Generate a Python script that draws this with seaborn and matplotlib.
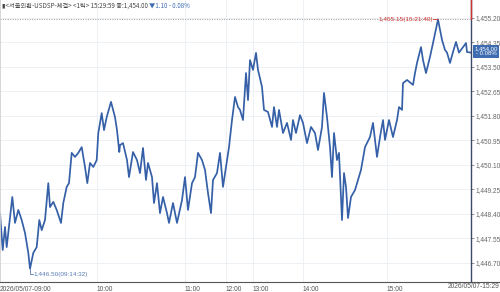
import numpy as np
import pandas as pd
import matplotlib
matplotlib.use("Agg")
import matplotlib.pyplot as plt
from matplotlib.lines import Line2D
import seaborn as sns

# ---- data (position along trade-count axis, price) ----
tick_pos = [0, 2.7, 5, 6.7, 10, 12.3, 15, 18.3, 21.7, 25, 28.3, 30, 33.3, 36.7, 39.3, 41.7,
            45, 48.3, 50, 53.3, 56.7, 61, 63.3, 66.7, 69, 71.7, 75, 78.3, 81.7, 85, 87.3, 90,
            93.3, 96.7, 98.3, 101.7, 104, 106.7, 111, 115, 117, 119.3,
            120, 123, 127, 129, 133, 137, 140, 143, 146, 148, 152, 154, 157, 160, 163, 167,
            169, 173, 177, 182, 185, 188, 192, 195, 198, 202, 205, 208, 211, 213, 217, 220,
            223, 227, 229, 232, 235, 238, 240, 243, 246, 248, 250, 253, 256, 258, 262, 264,
            268, 272, 274, 277, 279, 283, 287, 291, 293, 296, 300, 303, 307, 311, 315, 318,
            322, 324, 327, 330, 332, 334, 337, 339, 342, 344, 346, 348, 351, 355, 358, 361,
            365, 370, 373, 377, 380, 383, 385, 389, 393, 397, 399, 402, 403, 407, 413, 415,
            417, 421, 423, 426, 430, 433, 438, 442, 445, 447, 450, 453, 456, 459, 463, 466,
            467, 471]
price = [1448.43, 1447.15, 1447.95, 1447.25, 1448.29, 1448.99, 1448.09, 1448.54, 1448.19,
         1447.74, 1447.05, 1446.50, 1447.05, 1447.25, 1448.19, 1447.84, 1448.19, 1449.47,
         1448.64, 1448.82, 1448.54, 1448.09, 1448.78, 1449.34, 1449.47, 1450.52, 1450.38,
         1450.52, 1450.72, 1450.03, 1449.47, 1450.17, 1450.03, 1450.27, 1451.21, 1451.90,
         1451.31, 1451.76, 1452.29, 1451.76, 1451.31, 1450.55,
         1450.79, 1450.86, 1450.27, 1449.68, 1450.55, 1450.27, 1449.82, 1450.69, 1449.58,
         1450.17, 1449.68, 1448.78, 1449.47, 1448.43, 1448.99, 1448.43, 1448.09, 1448.78,
         1448.09, 1448.88, 1449.68, 1448.54, 1449.47, 1449.68, 1450.52, 1450.27, 1449.93,
         1449.13, 1448.43, 1449.58, 1449.82, 1450.52, 1449.34, 1450.27, 1450.72, 1451.66,
         1452.46, 1452.11, 1452.01, 1451.66, 1453.29, 1452.35, 1453.74, 1453.40, 1453.99,
         1453.40, 1452.81, 1452.01, 1451.94, 1451.42, 1452.11, 1451.42, 1452.01, 1451.21,
         1451.56, 1450.97, 1451.66, 1451.21, 1451.83, 1451.56, 1450.86, 1451.42, 1451.21,
         1450.62, 1451.42, 1452.60, 1451.76, 1450.72, 1449.68, 1451.21, 1450.27, 1450.52,
         1448.19, 1449.82, 1449.34, 1448.26, 1448.99, 1449.23, 1449.58, 1449.93,
         1450.72, 1451.07, 1451.56, 1450.38, 1451.07, 1451.66, 1450.97, 1451.66, 1451.07,
         1451.66, 1452.11, 1452.01, 1452.94, 1453.05, 1452.88, 1453.29, 1453.64, 1454.19,
         1453.74, 1453.29, 1453.85, 1454.33, 1455.15, 1454.44, 1454.09, 1454.00, 1453.64,
         1454.02, 1454.37, 1454.00, 1454.19, 1454.33, 1454.02, 1454.00]

x_tick_pos = [0, 97, 185, 226, 253, 303, 387]
x_tick_labels = ["2026/05/07-09:00", "10:00", "11:00", "12:00", "13:00", "14:00", "15:00"]
end_label = "2026/05/07-15:29"
y_ticks = [1446.70, 1447.55, 1448.40, 1449.25, 1450.10, 1450.95, 1451.80, 1452.65,
           1453.50, 1454.35, 1455.20]
high_val, high_label = 1455.15, "1,455.15(15:21:40)"
low_val, low_label = 1446.50, "1,446.50(09:14:32)"
last_val = 1454.00
header_main = "▮<서울외환-USDSP-체결> <1틱> 15:29:59 종:1,454.00 "
header_chg = "▼1.10 - 0.08%"
last_box = "1,454.00\n- 0.08%"

df = pd.DataFrame({"pos": tick_pos, "price": price})

# ---- figure ----
sns.set_style("white")
plt.rcParams["font.family"] = ["Liberation Sans", "DejaVu Sans"]
W, H = 500, 292
AX_B = 282  # pixel row of the bottom axis
fig = plt.figure(figsize=(W / 100, H / 100), dpi=100)
ax = fig.add_axes([0, (H - AX_B) / H, 471 / W, AX_B / H])

line_c = "#3560a8"
sns.lineplot(data=df, x="pos", y="price", ax=ax, color=line_c, linewidth=1.25)

xmax = 471
ppu = 28.82
ytop = 1455.20 + 18 / ppu
ybot = 1455.20 - (AX_B - 18) / ppu
ax.set_xlim(0, xmax)
ax.set_ylim(ybot, ytop)
ax.set_xlabel("")
ax.set_ylabel("")

# grid
for xv in x_tick_pos[1:]:
    ax.axvline(xv, color="#edf0f5", lw=0.7, zorder=0)
for yv in y_ticks:
    ax.axhline(yv, color="#edf0f5", lw=0.7, zorder=0)

# ticks
ax.set_xticks(x_tick_pos)
ax.set_xticklabels(x_tick_labels, ha="left", fontsize=4.8, color="#555555")
ax.yaxis.tick_right()
ax.set_yticks(y_ticks)
ax.set_yticklabels([f"{v:,.2f}" for v in y_ticks], fontsize=4.7, color="#666666")
ax.tick_params(axis="x", direction="out", length=2.5, width=0.5, pad=0.3, color="#666666")
ax.tick_params(axis="y", direction="out", length=2, width=0.5, pad=1, color="#666666")

ax.spines["top"].set_visible(False)
ax.spines["left"].set_color("#d0d0d0")
ax.spines["left"].set_linewidth(0.6)
ax.spines["right"].set_color("#3a4a66")
ax.spines["right"].set_linewidth(1.0)
ax.spines["bottom"].set_color("#555555")
ax.spines["bottom"].set_linewidth(0.8)

# bottom line extends to figure edge
fig.add_artist(Line2D([471 / W, 1], [(H - AX_B) / H] * 2, color="#555555", lw=0.8,
                      transform=fig.transFigure))
fig.text(499 / W, (H - AX_B - 1.3) / H, end_label, ha="right", va="top", fontsize=4.8,
         color="#555555")

# high line + label
ax.axhline(high_val, color="#9a9a9a", lw=0.7, ls=(0, (1, 1.5)), zorder=1)
ax.axvline(xmax, ymin=(high_val - ybot) / (ytop - ybot), ymax=1, color="#d0332f", lw=1.0,
           clip_on=False, zorder=5)
ax.plot([433, 438], [high_val, high_val], color="#d0332f", lw=0.6)
ax.text(433, high_val, high_label, ha="right", va="center", fontsize=4.6, color="#d0332f")

# low label
ax.plot([30, 30, 33], [low_val, low_val - 0.2, low_val - 0.2], color="#5a7bb5", lw=0.6)
ax.text(33, low_val - 0.2, low_label, ha="left", va="center", fontsize=4.6, color="#5a7bb5")

# last value box
ax.text(486, last_val + 0.05, last_box, transform=ax.transData, ha="center", va="center",
        fontsize=4.3, color="white", linespacing=0.95, clip_on=False,
        bbox=dict(boxstyle="square,pad=0.25", fc="#3d6cb0", ec="none"))

# header
t1 = fig.text(2 / W, 1 - 6 / H, header_main, ha="left", va="center", fontsize=4.5,
              color="#444444", family=["Noto Sans CJK KR", "DejaVu Sans"])
fig.canvas.draw()
bb = t1.get_window_extent()
fig.text(bb.x1 / W, 1 - 6 / H, header_chg, ha="left", va="center", fontsize=4.5,
         color="#3d6cb0", family=["Noto Sans CJK KR", "DejaVu Sans"])

fig.savefig("out.png", dpi=100)
